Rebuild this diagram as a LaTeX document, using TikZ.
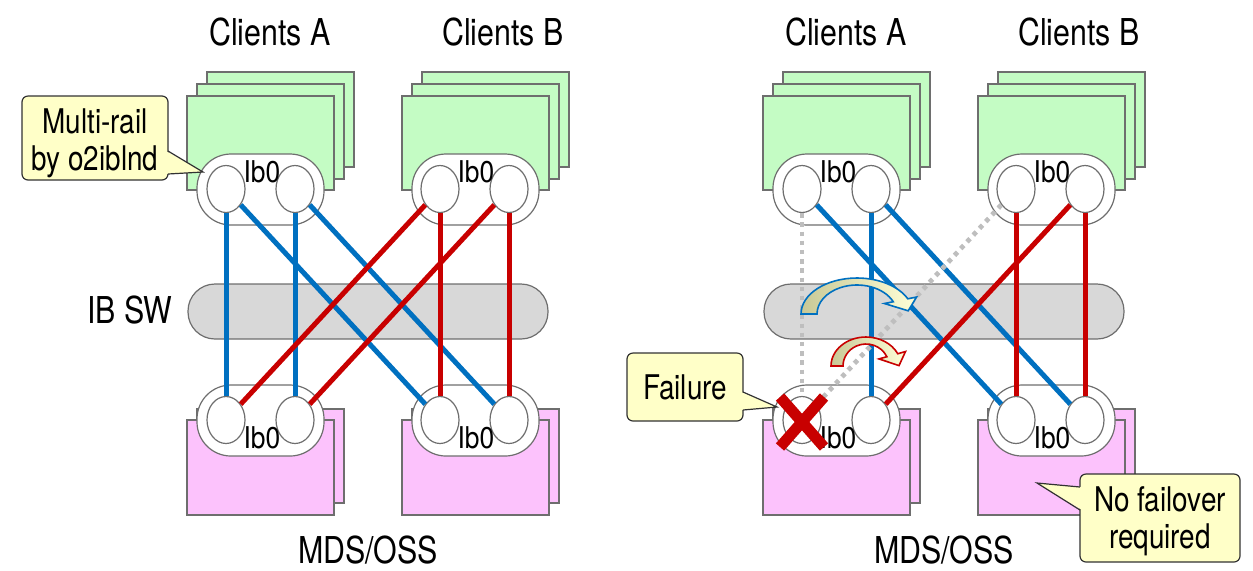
\documentclass[tikz,border=0pt]{standalone}
\usepackage{fontspec}
\setmainfont{TeX Gyre Heros}
\usepackage{graphicx}
\usetikzlibrary{shapes.geometric}
\definecolor{gfill}{RGB}{196,252,196}
\definecolor{pfill}{RGB}{252,194,252}
\definecolor{edge}{RGB}{110,110,110}
\definecolor{swfill}{RGB}{216,216,216}
\definecolor{lblue}{RGB}{0,112,192}
\definecolor{lred}{RGB}{200,0,0}
\definecolor{dotg}{RGB}{190,190,190}
\definecolor{cfill}{RGB}{255,255,200}
\definecolor{cedge}{RGB}{50,50,50}
\definecolor{akhaki}{RGB}{200,200,150}
\definecolor{apale}{RGB}{255,255,215}
\newcommand\nx[2]{\scalebox{#1}[1]{#2}}
\tikzset{
 card/.style={draw=edge, line width=0.6pt, fill=gfill},
 pcard/.style={draw=edge, line width=0.6pt, fill=pfill},
 pill/.style={draw=edge, line width=0.6pt, fill=white, rectangle, rounded corners=17pt, minimum width=63.5pt, minimum height=35.5pt, inner sep=0pt},
 port/.style={draw=edge, line width=0.6pt, fill=white, ellipse, minimum width=19pt, minimum height=23.5pt, inner sep=0pt},
 iblabel/.style={inner sep=0pt, font=\fontsize{15}{17}\selectfont},
 title/.style={inner sep=0pt, font=\fontsize{18.5}{21}\selectfont},
 sw/.style={draw=edge, line width=0.6pt, fill=swfill, rectangle, rounded corners=13.5pt, minimum width=180pt, minimum height=27.5pt, inner sep=0pt},
 bl/.style={draw=lblue, line width=2.5pt},
 rl/.style={draw=lred, line width=2.5pt},
 dl/.style={draw=dotg, line width=2.4pt, dash pattern=on 2.2pt off 2.4pt},
 cbox/.style={draw=cedge, line width=0.6pt, fill=cfill, rounded corners=3pt, inner sep=0pt, font=\fontsize{17}{18.5}\selectfont},
 cedgeline/.style={draw=cedge, line width=0.6pt},
 curvarrow/.style={line width=0.8pt, left color=akhaki, right color=apale},
}
\newcommand\sideparts{%
 \foreach \bx in {187,402}{
  \draw[card] (\bx+20,72) rectangle ++(147,95);
  \draw[card] (\bx+10,84) rectangle ++(147,95);
  \draw[card] (\bx,96) rectangle ++(147,94);
  \draw[pcard] (\bx+10,409) rectangle ++(147,94);
  \draw[pcard] (\bx,420) rectangle ++(147,95);
 }
 \node[pill] (tA) at (260.5,189.5) {};
 \node[pill] (tB) at (475.5,189.5) {};
 \node[pill] (bA) at (260.5,420.5) {};
 \node[pill] (bB) at (475.5,420.5) {};
 \node[port] (tA1) at (226,189) {};
 \node[port] (tA2) at (295,189) {};
 \node[port] (tB1) at (440,189) {};
 \node[port] (tB2) at (509,189) {};
 \node[port] (bA1) at (226,420) {};
 \node[port] (bA2) at (295,420) {};
 \node[port] (bB1) at (440,420) {};
 \node[port] (bB2) at (509,420) {};
 \node[iblabel] (ltA) at (262,172) {\nx{.88}{Ib0}};
 \node[iblabel] (ltB) at (476,172) {\nx{.88}{Ib0}};
 \node[iblabel] (lbA) at (262,438) {\nx{.88}{Ib0}};
 \node[iblabel] (lbB) at (476,438) {\nx{.88}{Ib0}};
 \node[sw] (sw) at (368,311.5) {};
 \node[title] (ttA) at (270,32) {\nx{.82}{Clients A}};
 \node[title] (ttB) at (503,32) {\nx{.82}{Clients B}};
 \node[title] (tmds) at (368,550) {\nx{.82}{MDS/OSS}};
}
\begin{document}
\begin{tikzpicture}[x=0.5pt,y=-0.5pt]
\useasboundingbox (0,0) rectangle (1253,570);
\begin{scope}[name prefix=L-]
 \sideparts
 \node[title] (ibsw) at (130,310) {\nx{.82}{IB SW}};
 \draw[bl] (tA1) -- (bA1);
 \draw[bl] (tA1) -- (bB1);
 \draw[bl] (tA2) -- (bA2);
 \draw[bl] (tA2) -- (bB2);
 \draw[rl] (tB1) -- (bA1);
 \draw[rl] (tB2) -- (bA2);
 \draw[rl] (tB1) -- (bB1);
 \draw[rl] (tB2) -- (bB2);
\end{scope}
\begin{scope}[xshift=288pt, name prefix=R-]
 \sideparts
 \draw[dl] (tA1) -- (bA1);
 \draw[bl] (tA1) -- (bB1);
 \draw[bl] (tA2) -- (bA2);
 \draw[bl] (tA2) -- (bB2);
 \draw[dl] (tB1) -- (bA1);
 \draw[rl] (tB2) -- (bA2);
 \draw[rl] (tB1) -- (bB1);
 \draw[rl] (tB2) -- (bB2);
\end{scope}
% curved failover arrows
\path[curvarrow, draw=lblue]
 (801,314) arc[start angle=180, end angle=25, x radius=28pt, y radius=18pt]
 -- (916.6,297) -- (908.2,310.8) -- (884.4,303.5)
 -- (893.25,301.74) arc[start angle=25, end angle=180, x radius=20pt, y radius=14.5pt] -- cycle;
\path[curvarrow, draw=lred]
 (831,366) arc[start angle=180, end angle=25, x radius=17.5pt, y radius=14.5pt]
 -- (905.5,351.5) -- (899,365.6) -- (879,358.9)
 -- (886.85,356.7) arc[start angle=25, end angle=180, x radius=11.5pt, y radius=11pt] -- cycle;
% failure mark
\draw[draw=lred, line width=5.5pt] ([shift={(-22,-23)}]R-bA1.center) -- ([shift={(22,27)}]R-bA1.center);
\draw[draw=lred, line width=5.5pt] ([shift={(22,-23)}]R-bA1.center) -- ([shift={(-22,27)}]R-bA1.center);
% callouts
\coordinate (mtip) at (203,172);
\node[cbox, minimum width=73pt, minimum height=42pt] (cM) at (95,138)
 {\raisebox{-3.5pt}[\height][\depth]{\nx{.82}{\begin{tabular}{@{}c@{}}Multi-rail\\by o2iblnd\end{tabular}}}};
\fill[cfill] (166,151) -- (mtip) -- (166,174) -- cycle;
\draw[cedgeline] (168,151) -- (mtip) -- (168,174);
\coordinate (ftip) at (777,407);
\node[cbox, minimum width=58pt, minimum height=34pt] (cF) at (685,387) {\nx{.82}{Failure}};
\fill[cfill] (741,392) -- (ftip) -- (741,410) -- cycle;
\draw[cedgeline] (743,392) -- (ftip) -- (743,410);
\coordinate (ntip) at (1037,483);
\node[cbox, minimum width=80pt, minimum height=44pt] (cN) at (1160,518)
 {\raisebox{-2.5pt}[\height][\depth]{\nx{.82}{\begin{tabular}{@{}c@{}}No failover\\required\end{tabular}}}};
\fill[cfill] (1082,487) -- (ntip) -- (1082,510) -- cycle;
\draw[cedgeline] (1080,487) -- (ntip) -- (1080,510);
\end{tikzpicture}
\end{document}
